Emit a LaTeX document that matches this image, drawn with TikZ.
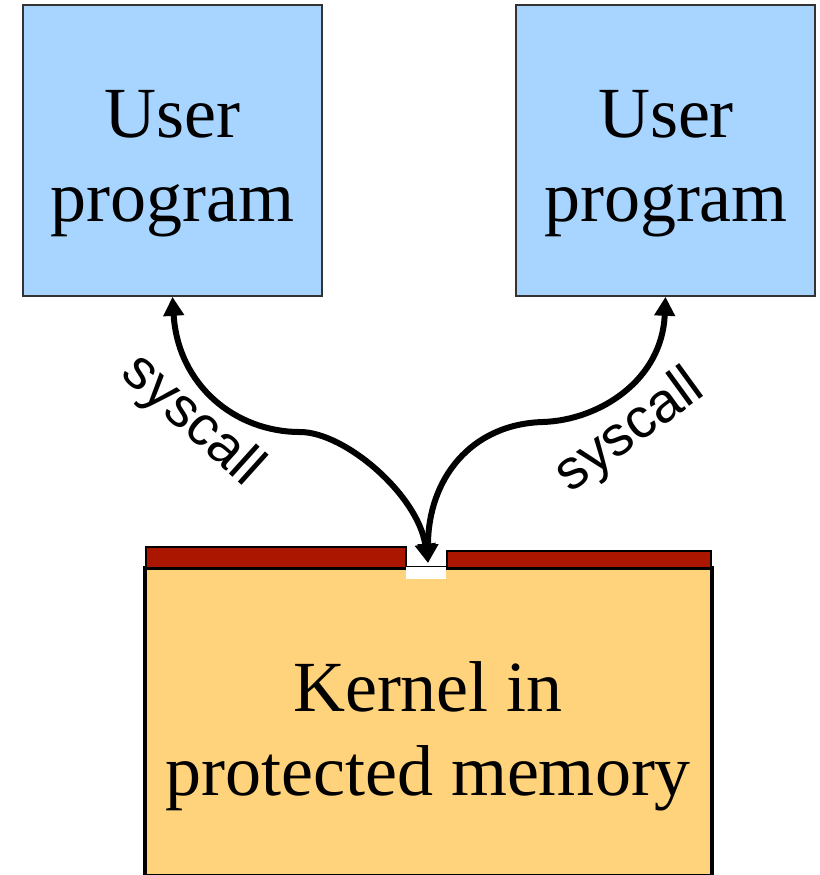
\documentclass[tikz,border=0pt]{standalone}
\usepackage{fontspec}
\setmainfont{Liberation Serif}
\newfontfamily\sansf{Liberation Sans}
\usetikzlibrary{arrows.meta}
\definecolor{ublue}{HTML}{A8D5FF}
\definecolor{kfill}{HTML}{FED37B}
\definecolor{kred}{HTML}{AA1600}
\tikzset{
  userbox/.style={draw=black!80, line width=0.8pt, fill=ublue, minimum width=149.5pt, minimum height=145.5pt, inner sep=0pt},
  bigtext/.style={font=\fontsize{36}{42}\selectfont, align=center, inner sep=0pt},
  sclabel/.style={font=\sansf\fontsize{28}{32}\selectfont, inner sep=0pt},
  arr/.style={line width=3pt, {Triangle[length=9.5pt,width=10pt]}-{Triangle[length=9.5pt,width=10pt]}},
  redbar/.style={draw=black, line width=0.9pt, fill=kred}
}
\begin{document}
\begin{tikzpicture}[x=0.5pt,y=-0.5pt]
\useasboundingbox (0,0) rectangle (820,875);
% user boxes
\node[userbox] (u1) at (172.5,150.5) {};
\node[userbox] (u2) at (665.5,150.5) {};
\node[bigtext] (t1) at (172.5,164) {User\\program};
\node[bigtext] (t2) at (666,164) {User\\program};
% kernel
\draw[line width=2.4pt, fill=kfill] (145,568) rectangle (712,876);
\node[bigtext] (kt) at (428,736) {Kernel in\\protected memory};
\draw[redbar] (146,547) rectangle (406,568);
\draw[redbar] (447,551) rectangle (711,568);
\fill[white] (406,567) rectangle (446,579);
\coordinate (ktip) at (428,563);
% arrows
\draw[arr] (u1.south) .. controls (178,385) and (235,432) .. (300,432)
  .. controls (345,432) and (418,495) .. (ktip);
\draw[arr] (u2.south) .. controls (662,380) and (600,420) .. (543,422)
  .. controls (470,424) and (428,480) .. (ktip);
% labels
\node[sclabel, rotate=-42] (s1) at (192,421) {syscall};
\node[sclabel, rotate=36] (s2) at (630,432) {syscall};
\end{tikzpicture}
\end{document}
